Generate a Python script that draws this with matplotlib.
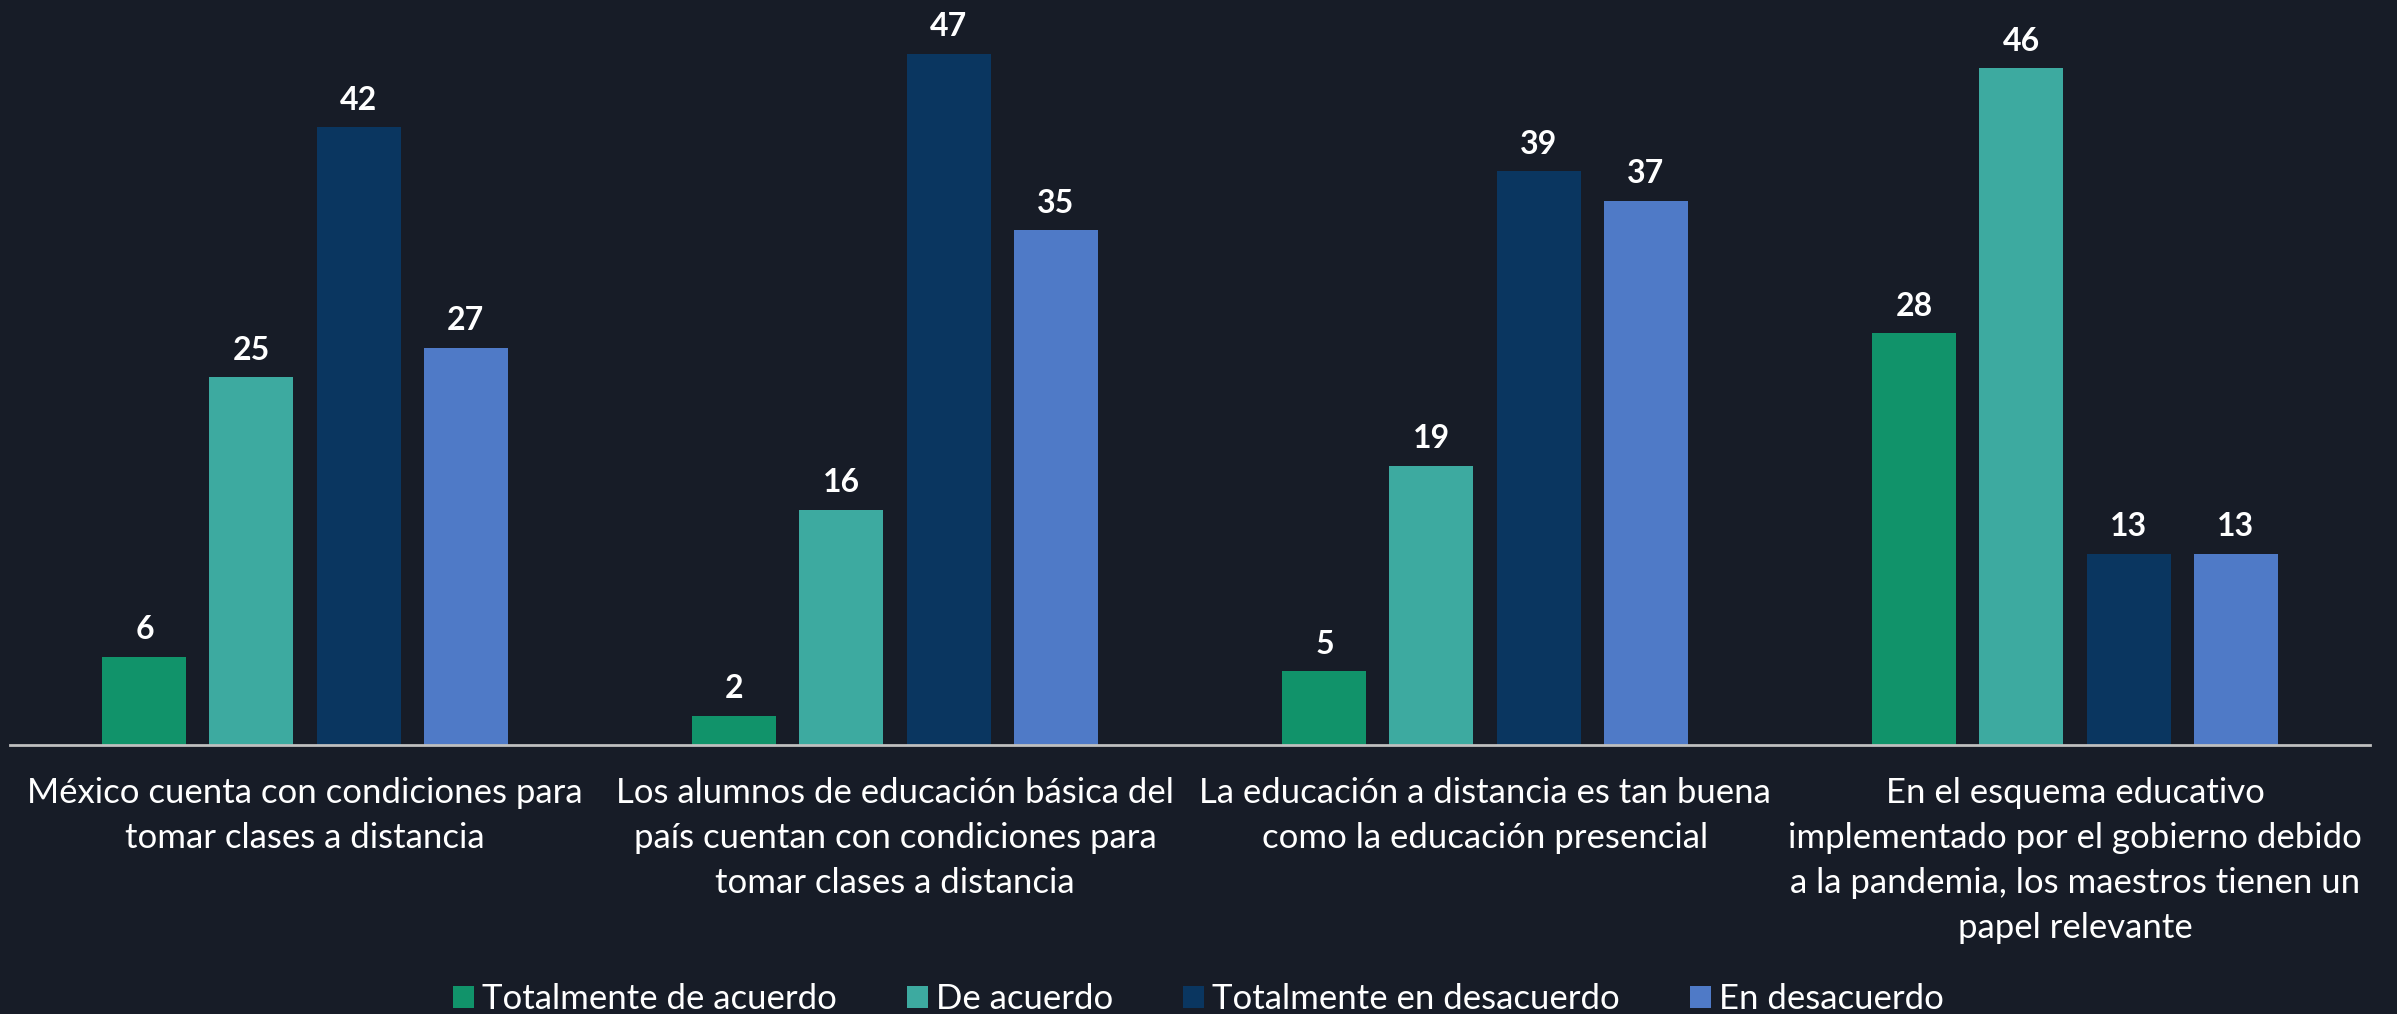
import matplotlib.pyplot as plt
import numpy as np
from matplotlib.patches import Patch

plt.rcParams['font.family'] = ['Lato', 'DejaVu Sans']

# Data
categories = ['México cuenta con condiciones para\ntomar clases a distancia',
              'Los alumnos de educación básica del\npaís cuentan con condiciones para\ntomar clases a distancia',
              'La educación a distancia es tan buena\ncomo la educación presencial',
              'En el esquema educativo\nimplementado por el gobierno debido\na la pandemia, los maestros tienen un\npapel relevante']
series_names = ['Totalmente de acuerdo', 'De acuerdo', 'Totalmente en desacuerdo', 'En desacuerdo']
totalmente_acuerdo = [6, 2, 5, 28]
de_acuerdo = [25, 16, 19, 46]
totalmente_desacuerdo = [42, 47, 39, 13]
en_desacuerdo = [27, 35, 37, 13]

colours = ['#11936A', '#3DAAA0', '#0A3660', '#4F7AC7']
bg = '#171C27'

fig = plt.figure(figsize=(23.97, 10.14), dpi=100, facecolor=bg)
ax = fig.add_axes([10/2397, 269/1014, 2360/2397, 745/1014])
ax.set_facecolor(bg)

x = np.arange(len(categories))
pitch = 0.1814
width = 0.1424
all_series = [totalmente_acuerdo, de_acuerdo, totalmente_desacuerdo, en_desacuerdo]
for i, (vals, col) in enumerate(zip(all_series, colours)):
    pos = x + (i - 1.5) * pitch
    bars = ax.bar(pos, vals, width=width, color=col, zorder=2)
    for b, v in zip(bars, vals):
        ax.annotate(str(v), (b.get_x() + b.get_width()/2, v), xytext=(0, 9),
                    textcoords='offset points', ha='center', va='bottom',
                    color='white', fontsize=23, fontweight='bold')

ax.set_xlim(-0.5, 3.5)
ax.set_ylim(0, 50.65)
for s in ['top', 'right', 'left']:
    ax.spines[s].set_visible(False)
ax.spines['bottom'].set_color('#BFBFBF')
ax.spines['bottom'].set_linewidth(2)
ax.set_yticks([])
ax.set_xticks(x)
ax.set_xticklabels(categories, color='white', fontsize=25, linespacing=1.5)
ax.tick_params(axis='x', length=0, pad=23)

handles = [Patch(facecolor=c, edgecolor='none') for c in colours]
fig.legend(handles, series_names, loc='lower center', bbox_to_anchor=(0.5, -0.032),
           ncol=4, frameon=False, fontsize=25, labelcolor='white',
           handlelength=0.6, handleheight=0.6, handletextpad=0.25, columnspacing=2.0)

plt.savefig('out.png', facecolor=bg)
